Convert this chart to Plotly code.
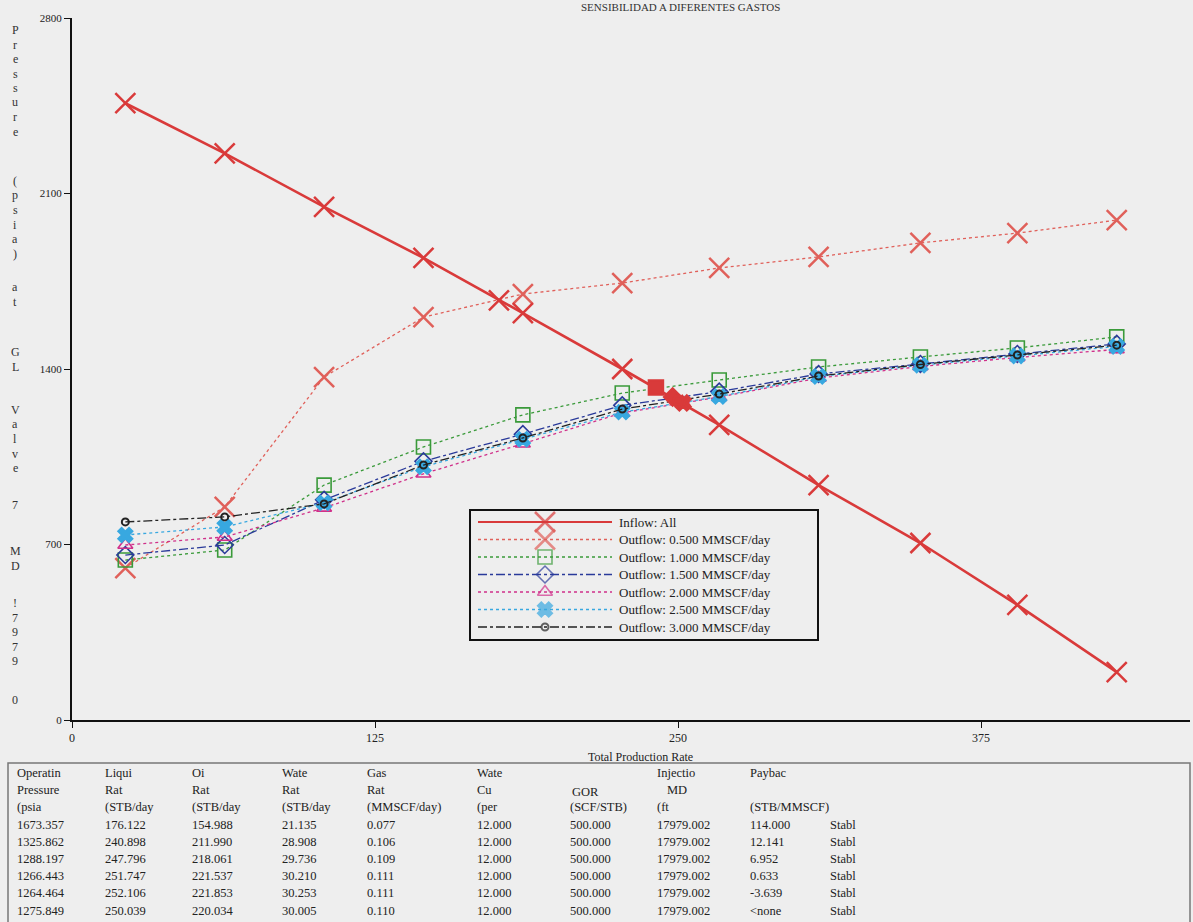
import plotly.graph_objects as go

# ---------------- data ----------------
rates = [22, 63, 104, 145, 186, 227, 267, 308, 350, 390, 431]
inflow_all = [2460, 2260, 2047, 1843, 1623, 1400, 1177, 937, 706, 459, 191]
out_0500 = [606, 850, 1368, 1607, 1699, 1743, 1803, 1847, 1903, 1942, 1994]
out_1000 = [638, 678, 937, 1089, 1217, 1304, 1356, 1408, 1448, 1484, 1528]
out_1500 = [658, 698, 878, 1032, 1140, 1255, 1310, 1380, 1420, 1460, 1500]
out_2000 = [698, 730, 846, 982, 1102, 1225, 1288, 1364, 1410, 1446, 1478]
out_2500 = [738, 770, 866, 1010, 1120, 1228, 1290, 1370, 1415, 1452, 1490]
out_3000 = [790, 810, 862, 1017, 1125, 1240, 1300, 1372, 1418, 1456, 1495]

series_names = ["Outflow: 0.500 MMSCF/day", "Outflow: 1.000 MMSCF/day",
                "Outflow: 1.500 MMSCF/day", "Outflow: 2.000 MMSCF/day",
                "Outflow: 2.500 MMSCF/day", "Outflow: 3.000 MMSCF/day"]

# table (solution points)
op_pressure = [1673.357, 1325.862, 1288.197, 1266.443, 1264.464, 1275.849]
liquid_rate = [176.122, 240.898, 247.796, 251.747, 252.106, 250.039]
oil_rate = [154.988, 211.990, 218.061, 221.537, 221.853, 220.034]
water_rate = [21.135, 28.908, 29.736, 30.210, 30.253, 30.005]
gas_rate = [0.077, 0.106, 0.109, 0.111, 0.111, 0.110]
water_cut = [12.000] * 6
gor = [500.000] * 6
inj_md = [17979.002] * 6
payback = ["114.000", "12.141", "6.952", "0.633", "-3.639", "<none"]
status = ["Stabl"] * 6

x_ticks = [0, 125, 250, 375]
y_ticks = [0, 700, 1400, 2100, 2800]

# ---------------- styling ----------------
FONT = "Liberation Serif"
BG = "#eeeeee"
RED = "#d93a3a"
colors = ["#e0605a", "#3a9a3a", "#2a3a9a", "#d0308a", "#38a8e0", "#222222"]
dashes = ["dot", "dot", "dashdot", "dot", "dot", "dashdot"]
symbols = ["x-thin-open", "square-open", "diamond-open", "triangle-up-open", "x", "circle-open"]
sizes = [20, 14, 13, 13, 13, 7]
sol_symbols = ["x-thin-open", "square", "diamond", "triangle-up", "x", "circle"]

L, R, T, B = 72, 3, 18, 202
W, H = 1193, 922
PW, PH = W - L - R, H - T - B


def PX(x):
    return (x - L) / PW


def PY(y):
    return (H - B - y) / PH


fig = go.Figure()

outflows = [out_0500, out_1000, out_1500, out_2000, out_2500, out_3000]
for i, ys in enumerate(outflows):
    mline = 2.5 if symbols[i] == "x-thin-open" else (2 if i == 5 else 1.6)
    fig.add_trace(go.Scatter(
        x=rates, y=ys, mode="lines+markers", name=series_names[i],
        line=dict(color=colors[i], width=1.3, dash=dashes[i]),
        marker=dict(symbol=symbols[i], size=sizes[i], color=colors[i],
                    line=dict(color=colors[i], width=mline)),
        showlegend=False))

fig.add_trace(go.Scatter(
    x=rates, y=inflow_all, mode="lines+markers", name="Inflow: All",
    line=dict(color=RED, width=2.6),
    marker=dict(symbol="x-thin-open", size=20, color=RED, line=dict(color=RED, width=2.5)),
    showlegend=False))

# solution points
for i in range(6):
    fig.add_trace(go.Scatter(
        x=[liquid_rate[i]], y=[op_pressure[i]], mode="markers",
        marker=dict(symbol=sol_symbols[i], size=sizes[i] if i != 5 else 9, color=RED,
                    line=dict(color=RED, width=2.5)),
        showlegend=False, hoverinfo="skip"))

# ---------------- custom legend ----------------
shapes = []
annotations = []
lx0, lx1, ly0, ly1 = 470, 818, 510, 640
shapes.append(dict(type="rect", xref="paper", yref="paper", x0=PX(lx0), x1=PX(lx1),
                   y0=PY(ly1), y1=PY(ly0), line=dict(color="#111", width=2),
                   fillcolor=BG, layer="below"))
leg_names = ["Inflow: All"] + series_names
leg_colors = [RED] + colors
leg_dash = ["solid"] + dashes
leg_sym = ["x-thin-open"] + symbols
leg_size = [20] + sizes
row_y = [522 + 17.5 * k for k in range(7)]
for k in range(7):
    shapes.append(dict(type="line", xref="paper", yref="paper", x0=PX(478), x1=PX(612),
                       y0=PY(row_y[k]), y1=PY(row_y[k]),
                       line=dict(color=leg_colors[k], width=2.2 if k == 0 else 1.3,
                                 dash=leg_dash[k]), layer="below"))
    annotations.append(dict(x=PX(617), y=PY(row_y[k]), xref="paper", yref="paper",
                            text=leg_names[k], showarrow=False, xanchor="left",
                            yanchor="middle", font=dict(family=FONT, size=13, color="#222")))
fig.add_trace(go.Scatter(
    x=[PX(545)] * 7, y=[PY(v) for v in row_y], xaxis="x2", yaxis="y2", mode="markers",
    marker=dict(symbol=leg_sym, size=leg_size, color=leg_colors,
                line=dict(color=leg_colors, width=[2.5, 2.5, 1.6, 1.6, 1.6, 1.6, 2])),
    showlegend=False, hoverinfo="skip"))

# ---------------- title & axis label ----------------
annotations.append(dict(x=PX(680), y=PY(7), xref="paper", yref="paper",
                        text="SENSIBILIDAD A DIFERENTES GASTOS", showarrow=False,
                        xanchor="center", yanchor="middle",
                        font=dict(family=FONT, size=11, color="#333")))
annotations.append(dict(x=PX(640), y=PY(757), xref="paper", yref="paper",
                        text="Total Production Rate", showarrow=False,
                        xanchor="center", yanchor="middle",
                        font=dict(family=FONT, size=12, color="#222")))

label_groups = [("Pressure", 30), ("(psia)", 181), ("at", 287), ("GL", 352),
                ("Valve", 410), ("7", 505), ("MD", 551), ("!7979", 603), ("0", 700)]
for word, y0 in label_groups:
    for j, ch in enumerate(word):
        annotations.append(dict(x=PX(15), y=PY(y0 + 14.5 * j), xref="paper", yref="paper",
                                text=ch, showarrow=False, xanchor="center", yanchor="middle",
                                font=dict(family=FONT, size=12, color="#333")))

# ---------------- table ----------------
shapes.append(dict(type="rect", xref="paper", yref="paper", x0=PX(8), x1=PX(1190),
                   y0=PY(928), y1=PY(763), line=dict(color="#777", width=1.5)))
col_x = [15, 103, 190, 280, 365, 475, 568, 655, 748, 828]
headers = [
    ["Operatin", "Pressure", "(psia"],
    ["Liqui", "Rat", "(STB/day"],
    ["Oi", "Rat", "(STB/day"],
    ["Wate", "Rat", "(STB/day"],
    ["Gas", "Rat", "(MMSCF/day)"],
    ["Wate", "Cu", "(per"],
    ["", "", "(SCF/STB)"],
    ["Injectio", "", "(ft"],
    ["Paybac", "", "(STB/MMSCF)"],
    ["", "", ""],
]
rows_y = [773 + 17.2 * k for k in range(9)]
tfont = dict(family=FONT, size=12.5, color="#222")
for c, hs in enumerate(headers):
    for r, t in enumerate(hs):
        if t:
            annotations.append(dict(x=PX(col_x[c]), y=PY(rows_y[r]), xref="paper", yref="paper",
                                    text=t, showarrow=False, xanchor="left", yanchor="middle",
                                    font=tfont))
annotations.append(dict(x=PX(570), y=PY(rows_y[1] + 2), xref="paper", yref="paper", text="GOR",
                        showarrow=False, xanchor="left", yanchor="middle", font=tfont))
annotations.append(dict(x=PX(665), y=PY(rows_y[1]), xref="paper", yref="paper", text="MD",
                        showarrow=False, xanchor="left", yanchor="middle", font=tfont))
cols = [
    [f"{v:.3f}" for v in op_pressure],
    [f"{v:.3f}" for v in liquid_rate],
    [f"{v:.3f}" for v in oil_rate],
    [f"{v:.3f}" for v in water_rate],
    [f"{v:.3f}" for v in gas_rate],
    [f"{v:.3f}" for v in water_cut],
    [f"{v:.3f}" for v in gor],
    [f"{v:.3f}" for v in inj_md],
    payback,
    status,
]
for c, vals in enumerate(cols):
    for r, t in enumerate(vals):
        annotations.append(dict(x=PX(col_x[c]), y=PY(rows_y[3 + r]), xref="paper", yref="paper",
                                text=t.replace("<", "&lt;"), showarrow=False, xanchor="left",
                                yanchor="middle", font=tfont))

fig.update_layout(
    width=W, height=H,
    margin=dict(l=L, r=R, t=T, b=B),
    paper_bgcolor=BG, plot_bgcolor=BG,
    font=dict(family=FONT, color="#222"),
    xaxis=dict(range=[0, PW / 2.424], tickvals=x_ticks, ticks="outside", ticklen=6,
               tickcolor="#111", showline=True, linecolor="#111", linewidth=2,
               showgrid=False, zeroline=False, tickfont=dict(family=FONT, size=12, color="#222")),
    yaxis=dict(range=[0, 2800], tickvals=y_ticks, ticks="outside", ticklen=6,
               tickcolor="#111", showline=True, linecolor="#111", linewidth=2,
               showgrid=False, zeroline=False, tickfont=dict(family=FONT, size=11, color="#222")),
    xaxis2=dict(range=[0, 1], overlaying="x", visible=False, fixedrange=True),
    yaxis2=dict(range=[0, 1], overlaying="y", visible=False, fixedrange=True),
    shapes=shapes,
    annotations=annotations,
)

fig.write_html("out.html", config={"displayModeBar": False},
               post_script="document.body.style.margin='0';document.body.style.background='#eeeeee';")
